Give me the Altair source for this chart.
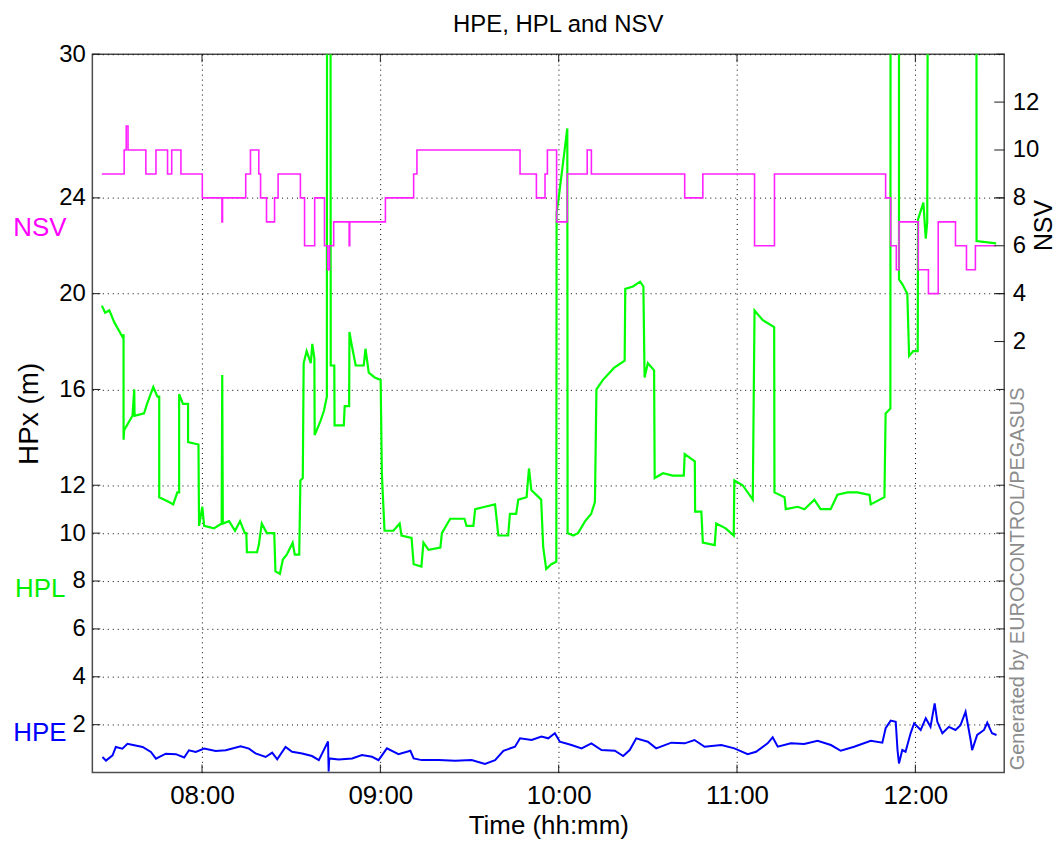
import altair as alt
import pandas as pd

# ---------------- data (time = minutes after midnight) ----------------
hpl_t = [446.3, 447.4, 448.8, 450.5, 453.2, 453.6, 453.6, 453.8, 456.6, 457.2, 457.3, 460.5, 461.5, 463.6,
         465.0, 465.6, 465.6, 468.9, 470.3, 471.7, 472.3, 472.3, 473.6, 475.3, 475.3, 478.8, 479.0, 480.1,
         480.7, 484.0, 486.6, 486.8, 487.0, 489.1, 491.1, 492.8, 494.4, 494.9, 495.1, 498.5, 499.1, 500.1,
         501.8, 504.3, 504.7, 506.2, 507.2, 508.5, 510.5, 511.2, 512.7, 513.1, 513.9, 514.2, 515.2, 516.6,
         517.1, 517.8, 517.9, 518.6, 519.9, 521.0, 522.0, 522.1, 523.2, 523.3, 524.5, 524.6, 527.7, 528.0,
         529.5, 529.6, 530.3, 531.7, 534.4, 535.0, 536.1, 538.1, 540.1, 540.5, 541.4, 544.4, 546.5, 547.1,
         550.5, 551.2, 553.8, 554.5, 556.2, 560.2, 560.7, 563.5, 568.3, 569.0, 571.3, 571.9, 575.2, 578.6,
         579.7, 583.0, 583.6, 585.7, 586.4, 589.2, 590.0, 590.8, 594.1, 594.8, 595.8, 597.5, 599.2, 599.3,
         599.8, 601.5, 602.9, 603.0, 604.9, 606.5, 608.9, 610.9, 612.2, 612.7, 614.9, 618.6, 622.2, 622.4,
         625.0, 627.4, 628.5, 628.9, 630.0, 632.1, 632.3, 635.1, 638.4, 642.1, 642.4, 645.8, 645.9, 648.0,
         648.5, 652.5, 653.0, 656.2, 658.9, 659.1, 661.9, 665.3, 665.9, 668.6, 672.5, 672.6, 676.0, 676.4,
         680.4, 682.7, 686.0, 688.1, 691.5, 693.8, 697.2, 700.5, 704.6, 705.0, 709.6, 710.0, 711.6, 711.7,
         714.5, 714.5, 715.6, 717.3, 717.9, 719.3, 720.8, 720.9, 722.7, 723.5, 724.0, 724.4, 740.5, 740.6,
         747.2]
hpl_v = [19.5, 19.2, 19.3, 18.8, 18.2, 18.3, 13.9, 14.3, 14.9, 16.0, 14.9, 15.0, 15.4, 16.1,
         15.7, 15.7, 11.5, 11.3, 11.2, 11.7, 11.7, 15.8, 15.4, 15.4, 13.8, 13.7, 10.3, 11.1,
         10.3, 10.2, 10.4, 16.6, 10.4, 10.5, 10.1, 10.5, 10.0, 10.0, 9.2, 9.2, 9.5, 10.4,
         10.0, 10.0, 8.4, 8.3, 8.9, 9.1, 9.6, 9.1, 9.1, 12.2, 12.3, 17.1, 17.6, 17.1,
         17.9, 17.3, 14.1, 14.3, 14.7, 15.1, 15.7, 45.0, 45.0, 17.0, 17.0, 14.5, 14.5, 15.3,
         15.3, 18.4, 17.9, 17.0, 17.0, 17.7, 16.7, 16.5, 16.4, 12.5, 10.1, 10.1, 10.4, 9.9,
         9.8, 8.7, 8.6, 9.6, 9.3, 9.4, 10.0, 10.6, 10.6, 10.3, 10.3, 11.0, 11.1, 11.2,
         9.9, 9.9, 10.8, 10.8, 11.4, 11.5, 12.7, 11.8, 11.4, 9.4, 8.5, 8.7, 8.8, 23.4,
         23.8, 25.5, 26.9, 10.0, 9.9, 10.0, 10.5, 10.8, 11.3, 16.0, 16.4, 16.9, 17.2, 20.2,
         20.3, 20.5, 20.3, 16.5, 17.1, 16.8, 12.3, 12.5, 12.4, 12.4, 13.3, 13.0, 10.9, 10.9,
         9.6, 9.5, 10.4, 10.2, 9.9, 12.2, 12.0, 11.4, 19.3, 18.9, 18.6, 11.7, 11.5, 11.0,
         11.1, 11.0, 11.4, 11.0, 11.0, 11.6, 11.7, 11.7, 11.6, 11.2, 11.5, 15.0, 15.2, 45.0,
         45.0, 20.6, 20.4, 20.0, 17.4, 17.6, 17.6, 23.1, 23.8, 22.3, 23.0, 45.0, 45.0, 22.2,
         22.1]

hpe_t = [446.5, 447.7, 449.9, 451.0, 453.2, 454.9, 457.2, 460.0, 462.8, 464.5, 467.8, 471.2, 474.0,
         475.6, 477.9, 480.7, 484.6, 488.0, 493.0, 495.8, 498.0, 501.4, 503.6, 505.3, 508.1, 510.3,
         513.7, 517.0, 519.3, 522.4, 522.6, 522.8, 526.0, 530.5, 533.8, 537.2, 539.4, 542.2, 546.1,
         550.1, 551.2, 553.9, 559.6, 565.2, 570.7, 575.2, 578.6, 581.4, 585.3, 587.0, 590.9, 594.2,
         596.5, 598.7, 600.4, 604.3, 607.7, 611.0, 614.4, 618.9, 621.7, 623.9, 626.1, 630.0, 632.8,
         637.9, 642.4, 645.7, 649.1, 654.7, 659.1, 663.6, 666.4, 670.3, 672.0, 673.7, 678.1, 682.6,
         687.1, 691.6, 694.9, 699.4, 705.0, 708.9, 710.0, 711.7, 713.4, 714.0, 714.5, 715.6, 716.7,
         718.4, 719.6, 721.8, 723.5, 725.1, 726.5, 727.4, 729.1, 731.3, 733.5, 735.2, 736.9, 738.6,
         739.1, 740.8, 743.1, 744.2, 745.8, 747.3]
hpe_v = [0.65, 0.50, 0.72, 1.07, 1.00, 1.20, 1.14, 1.07, 0.86, 0.58, 0.79, 0.77, 0.63,
         0.93, 0.86, 1.00, 0.90, 0.93, 1.10, 1.00, 0.80, 0.65, 0.83, 0.55, 1.07, 0.87,
         0.80, 0.69, 0.52, 1.30, 0.05, 0.59, 0.55, 0.59, 0.73, 0.66, 0.52, 1.01, 0.77,
         0.91, 0.59, 0.52, 0.52, 0.49, 0.52, 0.36, 0.52, 0.91, 1.08, 1.43, 1.36, 1.50,
         1.43, 1.64, 1.29, 1.15, 1.01, 1.22, 0.94, 0.91, 0.69, 0.94, 1.43, 1.29, 1.01,
         1.25, 1.22, 1.36, 1.08, 1.15, 1.01, 0.77, 0.87, 1.22, 1.47, 1.08, 1.22, 1.19,
         1.33, 1.15, 0.91, 1.08, 1.33, 1.25, 1.85, 2.17, 2.12, 0.94, 0.38, 0.94, 0.87,
         1.64, 2.06, 1.78, 2.27, 1.91, 2.89, 2.12, 1.64, 1.91, 1.78, 1.98, 2.54, 1.36,
         0.94, 1.57, 1.78, 2.08, 1.64, 1.57]

nsv_t = [446.3, 453.8, 454.5, 455.1, 461.1, 464.5, 468.4, 469.8, 472.9, 480.1, 486.7, 486.9, 494.7,
         496.3, 499.1, 499.7, 501.7, 504.4, 505.6, 513.1, 514.5, 517.9, 521.2, 522.3, 522.9, 524.3,
         529.5, 529.7, 541.7, 551.2, 552.3, 587.0, 592.5, 595.4, 596.2, 599.3, 602.9, 609.6, 611.0,
         642.4, 648.5, 665.9, 672.6, 710.0, 711.7, 713.6, 714.5, 721.0, 724.4, 727.7, 733.5, 737.2,
         740.2, 747.0]
nsv_v = [9, 10, 11, 10, 9, 10, 9, 10, 9, 8, 7, 8, 9,
         10, 9, 8, 7, 8, 9, 8, 6, 8, 6, 5, 6, 7,
         6, 7, 8, 9, 10, 9, 8, 9, 10, 7, 9, 10, 9,
         8, 9, 6, 9, 8, 6, 5, 7, 5, 4, 7, 6, 5,
         6, 6]

hour_ticks = [480, 540, 600, 660, 720]
hpx_ticks = [2, 4, 6, 8, 10, 12, 16, 20, 24, 30]
nsv_ticks = [2, 4, 6, 8, 10, 12]

# ---------------- layout ----------------
W, H = 915.6, 721.3
FONT = "Liberation Sans"
X_DOMAIN = [443.1, 749.9]

hpl = pd.DataFrame({"t": hpl_t, "v": hpl_v, "i": range(len(hpl_t))})
hpe = pd.DataFrame({"t": hpe_t, "v": hpe_v, "i": range(len(hpe_t))})
nsv = pd.DataFrame({"t": nsv_t, "n": nsv_v, "i": range(len(nsv_t))})
xt = pd.DataFrame({"t": hour_ticks})
yt = pd.DataFrame({"v": hpx_ticks})
nt = pd.DataFrame({"n": nsv_ticks})
one = pd.DataFrame({"a": [0]})

grid_kw = dict(grid=True, gridDash=[1, 4], gridColor="#000000", gridOpacity=1, gridWidth=1)

x_enc = alt.X(
    "t:Q",
    scale=alt.Scale(domain=X_DOMAIN, nice=False, zero=False),
    axis=alt.Axis(
        values=hour_ticks,
        labelExpr="(floor(datum.value/60) < 10 ? '0' : '') + floor(datum.value/60) + ':' + "
                  "(datum.value % 60 < 10 ? '0' : '') + (datum.value % 60)",
        title="Time (hh:mm)", ticks=False, domain=False, labelOverlap=False, labelFlush=False,
        labelFontSize=26, labelPadding=10, titleFontSize=26, titlePadding=4,
        **grid_kw),
)
y_hpx = alt.Y(
    "v:Q",
    scale=alt.Scale(domain=[0, 30], nice=False, zero=False),
    axis=alt.Axis(values=hpx_ticks, title="HPx (m)", ticks=False, domain=False, labelOverlap=False,
                  labelFontSize=24, labelPadding=7, titleFontSize=28, titlePadding=15, **grid_kw),
)
y_nsv = alt.Y(
    "n:Q",
    scale=alt.Scale(domain=[-16, 14], nice=False, zero=False),
    axis=alt.Axis(orient="right", values=nsv_ticks, title=None, ticks=False, domain=False, grid=False,
                  labelOverlap=False, labelFontSize=24, labelPadding=8),
)

hpl_line = alt.Chart(hpl).mark_line(color="#00ff00", strokeWidth=2.2, clip=True).encode(
    x=x_enc, y=y_hpx, order="i:Q")
hpe_line = alt.Chart(hpe).mark_line(color="#0000ff", strokeWidth=2.0, clip=True).encode(
    x=x_enc, y=y_hpx, order="i:Q")

tick_col = "#1a1a1a"
yt_left = alt.Chart(yt).mark_rule(color=tick_col, strokeWidth=1).encode(
    y=y_hpx, x=alt.value(0), x2=alt.value(8))
yt_right = alt.Chart(yt).mark_rule(color=tick_col, strokeWidth=1).encode(
    y=y_hpx, x=alt.value(W - 8), x2=alt.value(W))
xt_bot = alt.Chart(xt).mark_rule(color=tick_col, strokeWidth=1).encode(
    x=x_enc, y=alt.value(H), y2=alt.value(H - 8))
xt_top = alt.Chart(xt).mark_rule(color=tick_col, strokeWidth=1).encode(
    x=x_enc, y=alt.value(0), y2=alt.value(8))

lab_nsv = alt.Chart(one).mark_text(text="NSV", color="#ff00ff", fontSize=26, font=FONT,
                                   align="right", baseline="middle").encode(
    x=alt.value(-26), y=alt.value(175))
lab_hpl = alt.Chart(one).mark_text(text="HPL", color="#00ee00", fontSize=26, font=FONT,
                                   align="right", baseline="middle").encode(
    x=alt.value(-27), y=alt.value(537))
lab_hpe = alt.Chart(one).mark_text(text="HPE", color="#0000ff", fontSize=26, font=FONT,
                                   align="right", baseline="middle").encode(
    x=alt.value(-26), y=alt.value(682))

left = alt.layer(hpl_line, hpe_line, yt_left, yt_right, xt_bot, xt_top, lab_nsv, lab_hpl, lab_hpe)

nsv_line = alt.Chart(nsv).mark_line(color="#ff22ff", strokeWidth=1.6, interpolate="step-after",
                                    clip=True).encode(x=x_enc, y=y_nsv, order="i:Q")
nsv_tk = alt.Chart(nt).mark_rule(color=tick_col, strokeWidth=1).encode(
    y=y_nsv, x=alt.value(W - 10), x2=alt.value(W))
nsv_title = alt.Chart(one).mark_text(text="NSV", color="#000000", fontSize=25, font=FONT, angle=270,
                                     align="center", baseline="middle").encode(
    x=alt.value(956), y=alt.value(172))
gen_text = alt.Chart(one).mark_text(text="Generated by EUROCONTROL/PEGASUS", color="#8c8c8c",
                                    fontSize=20, font=FONT, angle=270, align="left",
                                    baseline="middle").encode(
    x=alt.value(929.5), y=alt.value(719))

right = alt.layer(nsv_line, nsv_tk, nsv_title, gen_text)

chart = (
    alt.layer(left, right)
    .resolve_scale(y="independent")
    .properties(
        width=W, height=H,
        autosize=alt.AutoSizeParams(type="none"),
        padding={"left": 84.7, "top": 44.7, "right": 52, "bottom": 66},
        title=alt.TitleParams("HPE, HPL and NSV", fontSize=24, font=FONT, fontWeight="normal",
                              anchor="middle", offset=5, dx=10, color="#000000"),
    )
    .configure_view(stroke="#4d4d4d", strokeWidth=1.5)
    .configure_axis(labelFont=FONT, titleFont=FONT, titleFontWeight="normal",
                    labelColor="#000000", titleColor="#000000")
)

chart.save("out.html", embed_options={"renderer": "svg", "actions": False})
